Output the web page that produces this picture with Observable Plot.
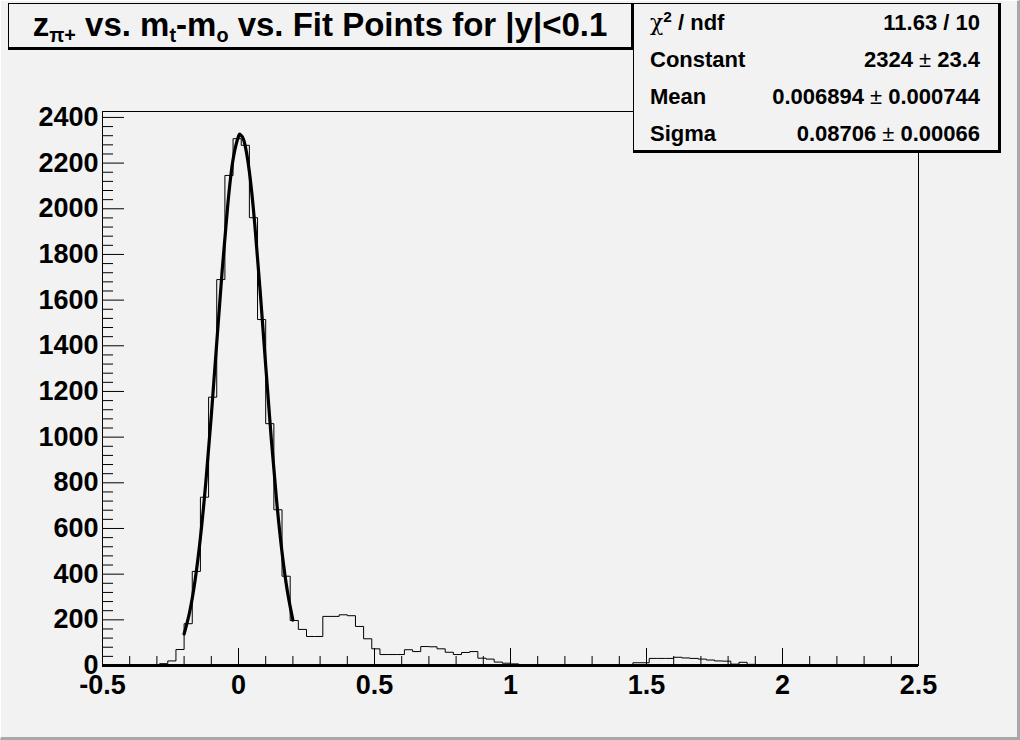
<!DOCTYPE html>
<html>
<head>
<meta charset="utf-8">
<script src="https://cdn.jsdelivr.net/npm/d3@7"></script>
<script src="https://cdn.jsdelivr.net/npm/@observablehq/plot@0.6"></script>
<style>
  body { margin: 0; background: #f2f2f2; }
  #wrap { position: relative; width: 1020px; height: 740px; background: #f2f2f2; overflow: hidden;
          font-family: "Liberation Sans", Arial, sans-serif; color: #000; }
  #chart { position: absolute; left: 0; top: 0; }
  .pave { position: absolute; box-sizing: border-box; background: #f2f2f2;
          border: 1px solid #000; border-right-width: 3px; border-bottom-width: 3px; }
  #title { left: 8px; top: 3px; width: 626px; height: 47px; font-weight: bold; font-size: 33px;
           text-align: center; line-height: 42px; white-space: nowrap; }
  #title sub { font-size: 60%; vertical-align: -0.3em; line-height: 0; }
  #stats { left: 633px; top: 3px; width: 368px; height: 150px; font-weight: bold; font-size: 22px; }
  .row { display: flex; justify-content: space-between; height: 37px; line-height: 37px; padding: 0 18px 0 16px; }
  .row sup { font-size: 70%; line-height: 0; }
  .chi { font-weight: normal; font-family: "DejaVu Serif", serif; font-size: 22px; }
  .pm { font-weight: normal; }
  #border { position: absolute; left: 0; top: 0; width: 1020px; height: 740px; box-sizing: border-box;
            border-top: 1px solid #fff; border-left: 1px solid #fff;
            border-right: 3px solid #a8a8a8; border-bottom: 3px solid #a8a8a8; pointer-events: none; }
</style>
</head>
<body>
<div id="wrap">
  <div id="chart"></div>
  <div id="title" class="pave">z<sub>π+</sub> vs. m<sub>t</sub>-m<sub>o</sub> vs. Fit Points for |y|&lt;0.1</div>
  <div id="stats" class="pave"></div>
  <div id="border"></div>
</div>
<script>
// ---- data ----
const xTicks = [-0.5, 0, 0.5, 1, 1.5, 2, 2.5];
const xTickLabels = ["-0.5", "0", "0.5", "1", "1.5", "2", "2.5"];
const yTicks = [0, 200, 400, 600, 800, 1000, 1200, 1400, 1600, 1800, 2000, 2200, 2400];
const yTickLabels = ["0", "200", "400", "600", "800", "1000", "1200", "1400", "1600", "1800", "2000", "2200", "2400"];

// histogram: 100 bins of width 0.03 starting at -0.5
const binStart = -0.5;
const binWidth = 0.03;
const counts = [
  0, 0, 0, 0, 0, 0, 0, 8, 20, 70,
  183, 412, 737, 1175, 1690, 2146, 2307, 2278, 1961, 1515,
  1059, 682, 391, 197, 158, 127, 127, 215, 215, 222,
  218, 171, 117, 73, 48, 48, 48, 69, 61, 83,
  82, 73, 58, 48, 57, 61, 32, 28, 15, 10,
  7, 0, 0, 0, 0, 0, 0, 0, 0, 0,
  0, 0, 4, 1, 4, 12, 12, 31, 31, 31,
  36, 33, 31, 28, 24, 20, 19, 6, 14, 5,
  0, 0, 0, 0, 0, 0, 0, 0, 0, 0,
  0, 0, 0, 0, 0, 0, 0, 0, 0, 0
];

const fitX = [-0.20, -0.18, -0.16, -0.14, -0.12, -0.10, -0.08, -0.06, -0.04, -0.02, 0.00, 0.007,
              0.02, 0.04, 0.06, 0.08, 0.10, 0.12, 0.14, 0.16, 0.18, 0.20];
const fitY = [138, 232, 370, 560, 804, 1094, 1413, 1730, 2010, 2216, 2317, 2324,
              2298, 2162, 1930, 1634, 1313, 1000, 723, 496, 323, 199];

const statNames = ["<span class='chi'>χ</span><sup>2</sup> / ndf", "Constant", "Mean", "Sigma"];
const statValues = ["11.63 / 10", "2324 <span class='pm'>±</span> 23.4",
                    "0.006894 <span class='pm'>±</span> 0.000744", "0.08706 <span class='pm'>±</span> 0.00066"];

// ---- build ----
const hist = counts.map((c, i) => ({x: binStart + i * binWidth, y: c}));
hist.push({x: binStart + counts.length * binWidth, y: counts[counts.length - 1]});
const fit = fitX.map((x, i) => ({x, y: fitY[i]}));

const xMinor = d3.range(-5, 26).map(k => k / 10).filter(v => !xTicks.some(t => Math.abs(t - v) < 1e-9));
const yMinor = d3.range(0, 2426, 40).filter(v => v % 200 !== 0);

const W = 1020, H = 740;
const mL = 102, mR = 102, mT = 111, mB = 75;
const frameH = H - mT - mB, frameW = W - mL - mR;
const font = {fontSize: 27, fontWeight: "bold", fontFamily: "Liberation Sans, Arial, sans-serif"};

const chart = Plot.plot({
  width: W, height: H,
  marginLeft: mL, marginRight: mR, marginTop: mT, marginBottom: mB,
  style: {background: "transparent", color: "#000", overflow: "visible"},
  x: {domain: [-0.5, 2.5], label: null},
  y: {domain: [0, 2426], label: null},
  marks: [
    Plot.frame({stroke: "#000", strokeWidth: 1}),
    Plot.tickX(xMinor, {x: d => d, stroke: "#000", insetTop: frameH - 9}),
    Plot.tickX(xTicks, {x: d => d, stroke: "#000", insetTop: frameH - 17}),
    Plot.tickY(yMinor, {y: d => d, stroke: "#000", insetRight: frameW - 11}),
    Plot.tickY(yTicks, {y: d => d, stroke: "#000", insetRight: frameW - 22}),
    Plot.line(hist, {x: "x", y: "y", curve: "step-after", stroke: "#000", strokeWidth: 1}),
    Plot.line(fit, {x: "x", y: "y", curve: "natural", stroke: "#000", strokeWidth: 3.2}),
    Plot.ruleY([0], {stroke: "#000", strokeWidth: 3}),
    Plot.axisX({ticks: xTicks, tickSize: 0, tickPadding: 9, label: null,
                tickFormat: d => xTickLabels[xTicks.indexOf(d)], ...font}),
    Plot.axisY({ticks: yTicks, tickSize: 0, tickPadding: 4, label: null,
                tickFormat: d => yTickLabels[yTicks.indexOf(d)], ...font})
  ]
});
document.getElementById("chart").appendChild(chart);

const stats = document.getElementById("stats");
statNames.forEach((n, i) => {
  const row = document.createElement("div");
  row.className = "row";
  row.innerHTML = `<span>${n}</span><span>${statValues[i]}</span>`;
  stats.appendChild(row);
});
</script>
</body>
</html>
